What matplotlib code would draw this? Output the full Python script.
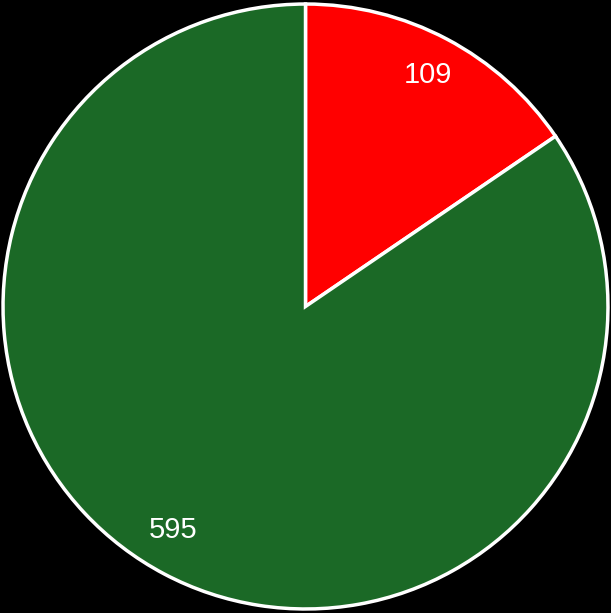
import matplotlib.pyplot as plt

# slice values, clockwise from 12 o'clock
values = [109, 595]
labels = ["109", "595"]
colors = ["#FF0000", "#1B6926"]

fig = plt.figure(figsize=(6.11, 6.13), dpi=100, facecolor="black")
ax = fig.add_axes([0, 0, 1, 1])
ax.set_facecolor("black")

wedges, texts = ax.pie(values, labels=labels, colors=colors, startangle=90,
                       counterclock=False, labeldistance=0.865,
                       wedgeprops=dict(edgecolor="white", linewidth=2.5),
                       textprops=dict(color="white", fontsize=21,
                                      family="Liberation Sans"))
for t in texts:
    t.set_horizontalalignment("center")
    t.set_verticalalignment("center")

# the lower label sits a bit further round in the original
x, y = texts[1].get_position()
texts[1].set_position((x - 0.035, y + 0.025))

ax.set_xlim(-1.01, 1.01)
ax.set_ylim(-1.01, 1.01)
ax.set_aspect("equal")

plt.savefig("out.png", dpi=100, facecolor="black")
